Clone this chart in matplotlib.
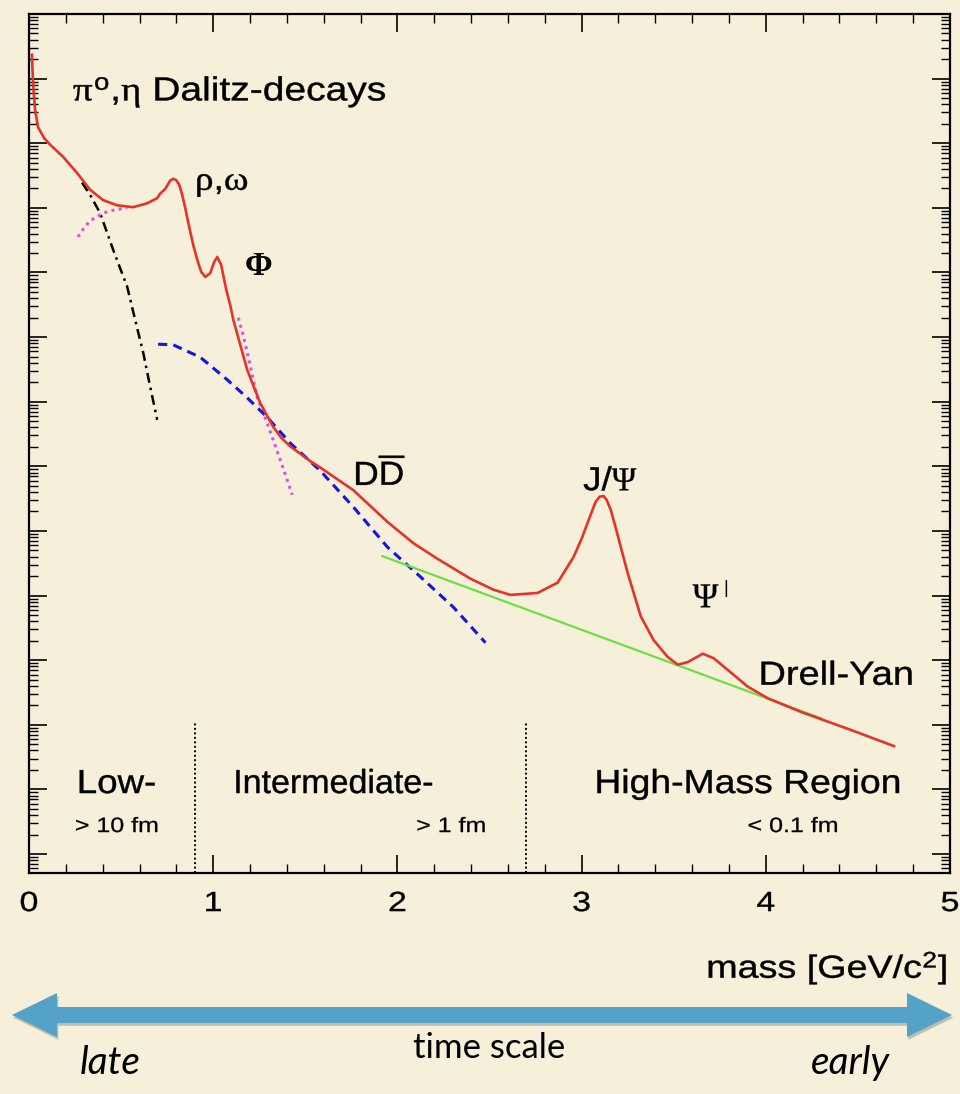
import numpy as np
import matplotlib.pyplot as plt
from matplotlib.ticker import LogLocator, MultipleLocator, NullFormatter
from matplotlib.patches import Polygon
from matplotlib.transforms import Affine2D
import matplotlib.patheffects as pe

plt.rcParams['font.family'] = ['Liberation Sans', 'DejaVu Sans']
plt.rcParams['mathtext.fontset'] = 'custom'
plt.rcParams['mathtext.rm'] = 'Liberation Sans'
plt.rcParams['mathtext.it'] = 'Liberation Serif'  # upright serif greek letters

bg = '#F6EFDA'

# dilepton yield vs invariant mass (GeV/c^2); yields stored as log10
total_m = [0.016, 0.022, 0.033, 0.049, 0.082, 0.114, 0.185, 0.261, 0.332, 0.402,
           0.478, 0.565, 0.641, 0.696, 0.712, 0.739, 0.766, 0.783, 0.799, 0.815,
           0.832, 0.848, 0.870, 0.892,
           0.913, 0.935, 0.957, 0.984, 1.005, 1.022, 1.043, 1.071, 1.092, 1.109,
           1.147, 1.185, 1.255, 1.326, 1.370, 1.418, 1.527, 1.582, 1.761, 1.946,
           2.087, 2.217, 2.397, 2.522, 2.614, 2.761, 2.870, 2.957, 3.003, 3.049,
           3.076, 3.098, 3.120, 3.136, 3.158, 3.185, 3.250, 3.321, 3.391, 3.467,
           3.522, 3.576, 3.658, 3.717, 3.793, 3.902, 4.011, 4.190, 4.462, 4.696]
total_lg = [12.37, 11.93, 11.52, 11.25, 11.08, 10.98, 10.79, 10.54, 10.28, 10.12,
            10.04, 10.01, 10.07, 10.15, 10.22, 10.29, 10.42, 10.45, 10.43, 10.36,
            10.20, 10.00, 9.70, 9.42,
            9.20, 9.01, 8.93, 8.99, 9.16, 9.24, 9.12, 8.73, 8.50, 8.27,
            7.88, 7.49, 6.98, 6.61, 6.44, 6.31, 6.08, 5.98, 5.63, 5.14,
            4.81, 4.57, 4.26, 4.09, 4.01, 4.04, 4.20, 4.60, 4.90, 5.25,
            5.45, 5.53, 5.54, 5.48, 5.33, 5.05, 4.35, 3.68, 3.31, 3.05,
            2.93, 2.97, 3.10, 3.03, 2.85, 2.59, 2.41, 2.20, 1.92, 1.67]

# open charm (D Dbar)
charm_m = [0.701, 0.783, 0.929, 1.076, 1.185, 1.293, 1.418, 1.582, 1.761, 1.946,
           2.125, 2.304, 2.478]
charm_lg = [7.89, 7.88, 7.69, 7.34, 7.06, 6.76, 6.36, 5.93, 5.37, 4.75,
            4.29, 3.82, 3.27]

# Drell-Yan
dy_m = [1.918, 4.30]
dy_lg = [4.61, 2.10]

# Dalitz decays
dalitz_m = [0.288, 0.332, 0.386, 0.457, 0.533, 0.576, 0.620, 0.658, 0.696]
dalitz_lg = [10.39, 10.20, 9.92, 9.35, 8.78, 8.27, 7.76, 7.23, 6.72]

# thermal / vector meson tails
rho_m = [0.266, 0.299, 0.332, 0.402, 0.467, 0.533]
rho_lg = [9.55, 9.69, 9.80, 9.92, 9.97, 10.00]
phi_m = [1.136, 1.163, 1.185, 1.239, 1.293, 1.364, 1.429]
phi_lg = [8.30, 8.03, 7.76, 7.07, 6.67, 6.10, 5.56]

# region boundaries
bounds = [0.90, 2.70]


class Widen(pe.AbstractPathEffect):
    """Draw text glyphs stretched horizontally (about one edge or the centre),
    with an optional outline in the text colour to thicken the strokes."""

    def __init__(self, sx=1.12, align='left', lw=0.3):
        super().__init__()
        self.sx = sx
        self.align = align
        self.lw = lw

    def draw_path(self, renderer, gc, tpath, affine, rgbFace=None):
        ext = affine.transform_path(tpath).get_extents()
        if self.align == 'left':
            xa = ext.x0
        elif self.align == 'right':
            xa = ext.x1
        else:
            xa = 0.5 * (ext.x0 + ext.x1)
        tr = affine + Affine2D().translate(-xa, 0).scale(self.sx, 1).translate(xa, 0)
        gc0 = renderer.new_gc()
        gc0.copy_properties(gc)
        if self.lw and rgbFace is not None:
            gc0.set_linewidth(self.lw)
            gc0.set_foreground(rgbFace)
        renderer.draw_path(gc0, tpath, tr, rgbFace)
        gc0.restore()


def lin(lg):
    return 10.0 ** np.asarray(lg)


fig = plt.figure(figsize=(9.6, 10.94), dpi=100, facecolor=bg)
ax = fig.add_axes([0.0302, 0.2020, 0.9594, 0.7852])
ax.set_facecolor(bg)
ax.set_yscale('log')
ax.set_xlim(0, 5)
ax.set_ylim(10 ** -0.294, 1e13)

ax.plot(dalitz_m, lin(dalitz_lg), color='black', lw=1.8, dashes=(4, 2, 1, 2))
ax.plot(rho_m, lin(rho_lg), color='#E050E0', lw=2.2, dashes=(1, 1.4))
ax.plot(phi_m, lin(phi_lg), color='#E050E0', lw=2.2, dashes=(1, 1.4))
ax.plot(charm_m, lin(charm_lg), color='#1414E6', lw=2.2, dashes=(3, 2))
ax.plot(dy_m, lin(dy_lg), color='#6CE040', lw=1.6)
ax.plot(total_m, lin(total_lg), color='#E5332A', lw=1.9,
        solid_joinstyle='round')

for b in bounds:
    ax.plot([b, b], [10 ** -0.294, lin(2.04)], color='black', lw=1.4,
            dashes=(1, 1.3))

for sp in ax.spines.values():
    sp.set_linewidth(1.6)

ax.xaxis.set_major_locator(MultipleLocator(1))
ax.xaxis.set_minor_locator(MultipleLocator(0.2))
ax.yaxis.set_major_locator(LogLocator(base=10, numticks=100))
ax.yaxis.set_minor_locator(LogLocator(base=10, subs=np.arange(2, 10), numticks=100))
ax.yaxis.set_major_formatter(NullFormatter())
ax.yaxis.set_minor_formatter(NullFormatter())
ax.tick_params(which='both', direction='in', top=True, right=True,
               labelsize=20, pad=13)
ax.tick_params(which='major', length=13, width=1.2)
ax.tick_params(which='minor', length=6.5, width=1.0)

# annotations
big = 24
ax.text(0.239, lin(11.66), r'$\pi^{\mathrm{o}}$,$\eta$ Dalitz-decays', fontsize=big,
        path_effects=[Widen(1.17)])
ax.text(0.902, lin(10.28), r'$\rho$,$\omega$', fontsize=big,
        path_effects=[Widen(1.12)])
ax.text(1.174, lin(8.96), 'Φ', fontsize=big, family='Liberation Serif',
        fontweight='bold')
ax.text(1.761, lin(5.71), r'D$\overline{\mathrm{D}}$', fontsize=big,
        path_effects=[Widen(1.06)])
ax.text(3.163, lin(5.63), 'J/', fontsize=big, ha='right',
        path_effects=[Widen(1.1, 'right')])
ax.text(3.163, lin(5.63), 'Ψ', fontsize=big, family='Liberation Serif',
        path_effects=[Widen(1.0, lw=0.25)])
ax.text(3.603, lin(3.82), 'Ψ', fontsize=25, family='Liberation Serif',
        path_effects=[Widen(1.0, lw=0.25)])
ax.text(3.772, lin(4.04), '|', fontsize=13)
ax.text(3.962, lin(2.62), 'Drell-Yan', fontsize=big, path_effects=[Widen(1.14)])

ax.text(0.261, lin(0.944), 'Low-', fontsize=big, path_effects=[Widen(1.1)])
ax.text(1.109, lin(0.944), 'Intermediate-', fontsize=big, path_effects=[Widen(1.02)])
ax.text(3.071, lin(0.944), 'High-Mass Region', fontsize=big,
        path_effects=[Widen(1.12)])
for xm, s in [(0.25, '> 10 fm'), (2.103, '> 1 fm'), (3.902, '< 0.1 fm')]:
    ax.text(xm, lin(0.34), s, fontsize=15, path_effects=[Widen(1.2, lw=0.2)])

fig.text(0.9875, 0.106, r'mass [GeV/c$^2$]', fontsize=23, ha='right',
         path_effects=[Widen(1.18, 'right')])

# time-scale arrow below the axes
W, H = 960.0, 1094.0
yc, hw, sw = 1015.0, 22.0, 8.0
x0, x1, hl = 12.0, 952.0, 45.0
pts = [(x0, yc), (x0 + hl, yc - hw), (x0 + hl, yc - sw), (x1 - hl, yc - sw),
       (x1 - hl, yc - hw), (x1, yc), (x1 - hl, yc + hw), (x1 - hl, yc + sw),
       (x0 + hl, yc + sw), (x0 + hl, yc + hw)]
arrow = Polygon([(x / W, 1 - y / H) for x, y in pts], closed=True,
                transform=fig.transFigure, facecolor='#54A2C8', edgecolor='none',
                path_effects=[pe.SimplePatchShadow(offset=(1, -2), alpha=0.25),
                              pe.Normal()])
fig.patches.append(arrow)

fig.text(0.510, 0.033, 'time scale', fontsize=25, family='Lato', ha='center')
fig.text(0.083, 0.018, 'late', fontsize=28, family='Lato', style='italic')
fig.text(0.927, 0.018, 'early', fontsize=28, family='Lato', style='italic',
         ha='right')

fig.canvas.draw()
for lab in ax.get_xticklabels():
    lab.set_path_effects([Widen(1.22, 'center', lw=0.25)])

fig.savefig('out.png', dpi=100, facecolor=bg)
